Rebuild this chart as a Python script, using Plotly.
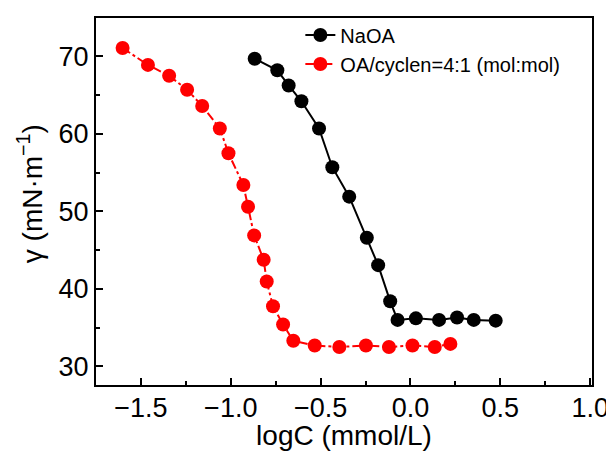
import plotly.graph_objects as go

# NaOA series
naoa_x = [-0.867, -0.741, -0.678, -0.607, -0.509, -0.435, -0.341, -0.243, -0.180, -0.113,
          -0.072, 0.030, 0.159, 0.259, 0.352, 0.474]
naoa_y = [69.7, 68.2, 66.25, 64.2, 60.7, 55.7, 51.9, 46.6, 43.06, 38.4,
          36.0, 36.2, 36.0, 36.3, 36.0, 35.9]

# OA/cyclen = 4:1 series
mix_x = [-1.602, -1.461, -1.343, -1.243, -1.159, -1.061, -1.013, -0.930, -0.904, -0.870,
         -0.817, -0.800, -0.765, -0.709, -0.652, -0.533, -0.396, -0.248, -0.120, 0.011,
         0.135, 0.222]
mix_y = [71.08, 68.9, 67.5, 65.7, 63.6, 60.7, 57.5, 53.4, 50.6, 46.9,
         43.75, 40.95, 37.76, 35.4, 33.3, 32.7, 32.5, 32.7, 32.5, 32.7,
         32.5, 32.9]

x_ticks = [-1.5, -1.0, -0.5, 0.0, 0.5, 1.0]
x_tick_labels = ["\u22121.5", "\u22121.0", "\u22120.5", "0.0", "0.5", "1.0"]
y_ticks = [30, 40, 50, 60, 70]

FONT = "Liberation Sans, Arial, sans-serif"

fig = go.Figure()
fig.add_trace(go.Scatter(
    x=naoa_x, y=naoa_y, mode="lines+markers", name="NaOA",
    line=dict(color="black", width=2),
    marker=dict(color="black", size=14, symbol="circle"),
))
fig.add_trace(go.Scatter(
    x=mix_x, y=mix_y, mode="lines+markers", name="OA/cyclen=4:1 (mol:mol)",
    line=dict(color="#ff0000", width=2, dash="dashdot"),
    marker=dict(color="#ff0000", size=14, symbol="circle"),
))

axis_common = dict(
    showline=True, linecolor="black", linewidth=2.2, mirror=True,
    ticks="inside", ticklen=7, tickwidth=2, tickcolor="black",
    showgrid=False, zeroline=False, automargin=False,
    tickfont=dict(family=FONT, size=27, color="black"),
)

fig.update_xaxes(
    range=[-1.75, 1.01], tickvals=x_ticks, ticktext=x_tick_labels,
    minor=dict(ticks="inside", ticklen=4, tickwidth=2, tickcolor="black", dtick=0.25, tick0=0),
    ticklabelstandoff=-3,
    title=dict(text="logC (mmol/L)", font=dict(family=FONT, size=28, color="black"), standoff=8),
    **axis_common,
)
fig.update_yaxes(
    range=[27.6, 74.95], tickvals=y_ticks,
    minor=dict(ticks="inside", ticklen=4, tickwidth=2, tickcolor="black", dtick=5, tick0=0),
    **axis_common,
)

fig.add_annotation(
    text="\u03b3 (mN\u00b7m<sup>\u22121</sup>)", textangle=-90,
    xref="paper", yref="paper", x=-0.133, y=0.52,
    xanchor="center", yanchor="middle", showarrow=False,
    font=dict(family=FONT, size=28, color="black"),
)

fig.update_layout(
    width=606, height=443,
    margin=dict(l=88, r=22, t=9, b=66),
    paper_bgcolor="white", plot_bgcolor="white",
    showlegend=True,
    legend=dict(
        x=0.412, y=1.004, xanchor="left", yanchor="top",
        bgcolor="rgba(0,0,0,0)", borderwidth=0,
        font=dict(family=FONT, size=20, color="black"),
        tracegroupgap=0,
    ),
)

fig.write_html("out.html")
